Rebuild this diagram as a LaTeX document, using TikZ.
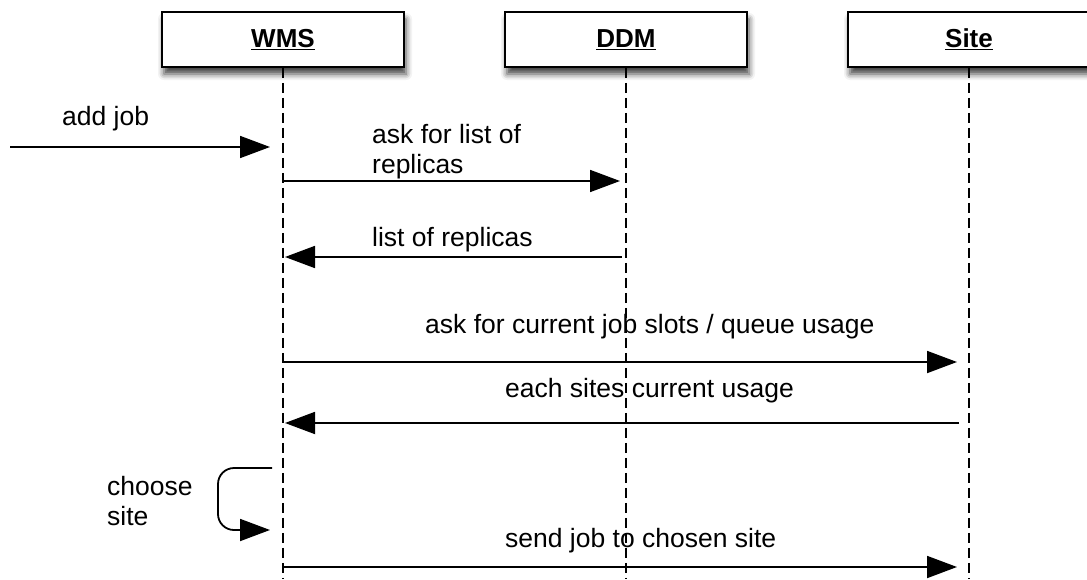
\documentclass[tikz,border=0pt]{standalone}
\usepackage{fontspec}
\setmainfont{Liberation Sans}
\usetikzlibrary{arrows.meta,shadows.blur}

\begin{document}
\begin{tikzpicture}[x=1pt,y=-1pt,
  lbl/.style={font=\fontsize{26.5}{30}\selectfont, inner sep=0pt, anchor=base west, align=left},
  actor/.style={draw=black, line width=1.8pt, fill=white, minimum width=242pt, minimum height=55pt,
    inner sep=0pt, font=\fontsize{26}{30}\selectfont\bfseries,
    blur shadow={shadow xshift=2pt, shadow yshift=-7pt, shadow blur radius=6pt, shadow opacity=75}},
  lifeline/.style={line width=1.8pt, dash pattern=on 10pt off 5pt},
  msg/.style={line width=1.8pt, -{Triangle[length=30pt,width=22pt]}}]

\useasboundingbox (0,0) rectangle (1087,579);

% participants
\node[actor] (wms)  at (283,39.5) {\underline{WMS}};
\node[actor] (ddm)  at (626,39.5) {\underline{DDM}};
\node[actor] (site) at (969,39.5) {\underline{Site}};

% lifeline ends
\coordinate (wmsEnd)  at (283,579);
\coordinate (ddmEnd)  at (626,579);
\coordinate (siteEnd) at (969,579);

\draw[lifeline] (wms.south)  -- (wmsEnd);
\draw[lifeline] (ddm.south)  -- (ddmEnd);
\draw[lifeline] (site.south) -- (siteEnd);

% message end points
\coordinate (jobIn)   at (10,147);
\coordinate (jobAt)   at (270,147);
\coordinate (askW)    at (283,181);
\coordinate (askD)    at (620,181);
\coordinate (repD)    at (622,257);
\coordinate (repW)    at (285,257);
\coordinate (slotW)   at (283,362);
\coordinate (slotS)   at (957,362);
\coordinate (useS)    at (959,423);
\coordinate (useW)    at (285,423);
\coordinate (loopOut) at (272,468);
\coordinate (loopIn)  at (270,530);
\coordinate (sendW)   at (283,567);
\coordinate (sendS)   at (957,567);

% messages
\draw[msg] (jobIn) -- (jobAt);
\draw[msg] (askW) -- (askD);
\draw[msg] (repD) -- (repW);
\draw[msg] (slotW) -- (slotS);
\draw[msg] (useS) -- (useW);
\draw[msg, rounded corners=16pt] (loopOut) -- (218,468) -- (218,530) -- (loopIn);
\draw[msg] (sendW) -- (sendS);

% labels (multi-line labels are placed by their last baseline)
\node[lbl] (tJob)  at (62,125)  {add job};
\node[lbl] (tAsk)  at (372,173) {ask for list of\\replicas};
\node[lbl] (tRep)  at (372,246) {list of replicas};
\node[lbl] (tSlot) at (425,333) {ask for current job slots / queue usage};
\node[lbl] (tUse)  at (505,397) {each sites current usage};
\node[lbl] (tLoop) at (107,525) {choose\\site};
\node[lbl] (tSend) at (505,547) {send job to chosen site};
\end{tikzpicture}
\end{document}
